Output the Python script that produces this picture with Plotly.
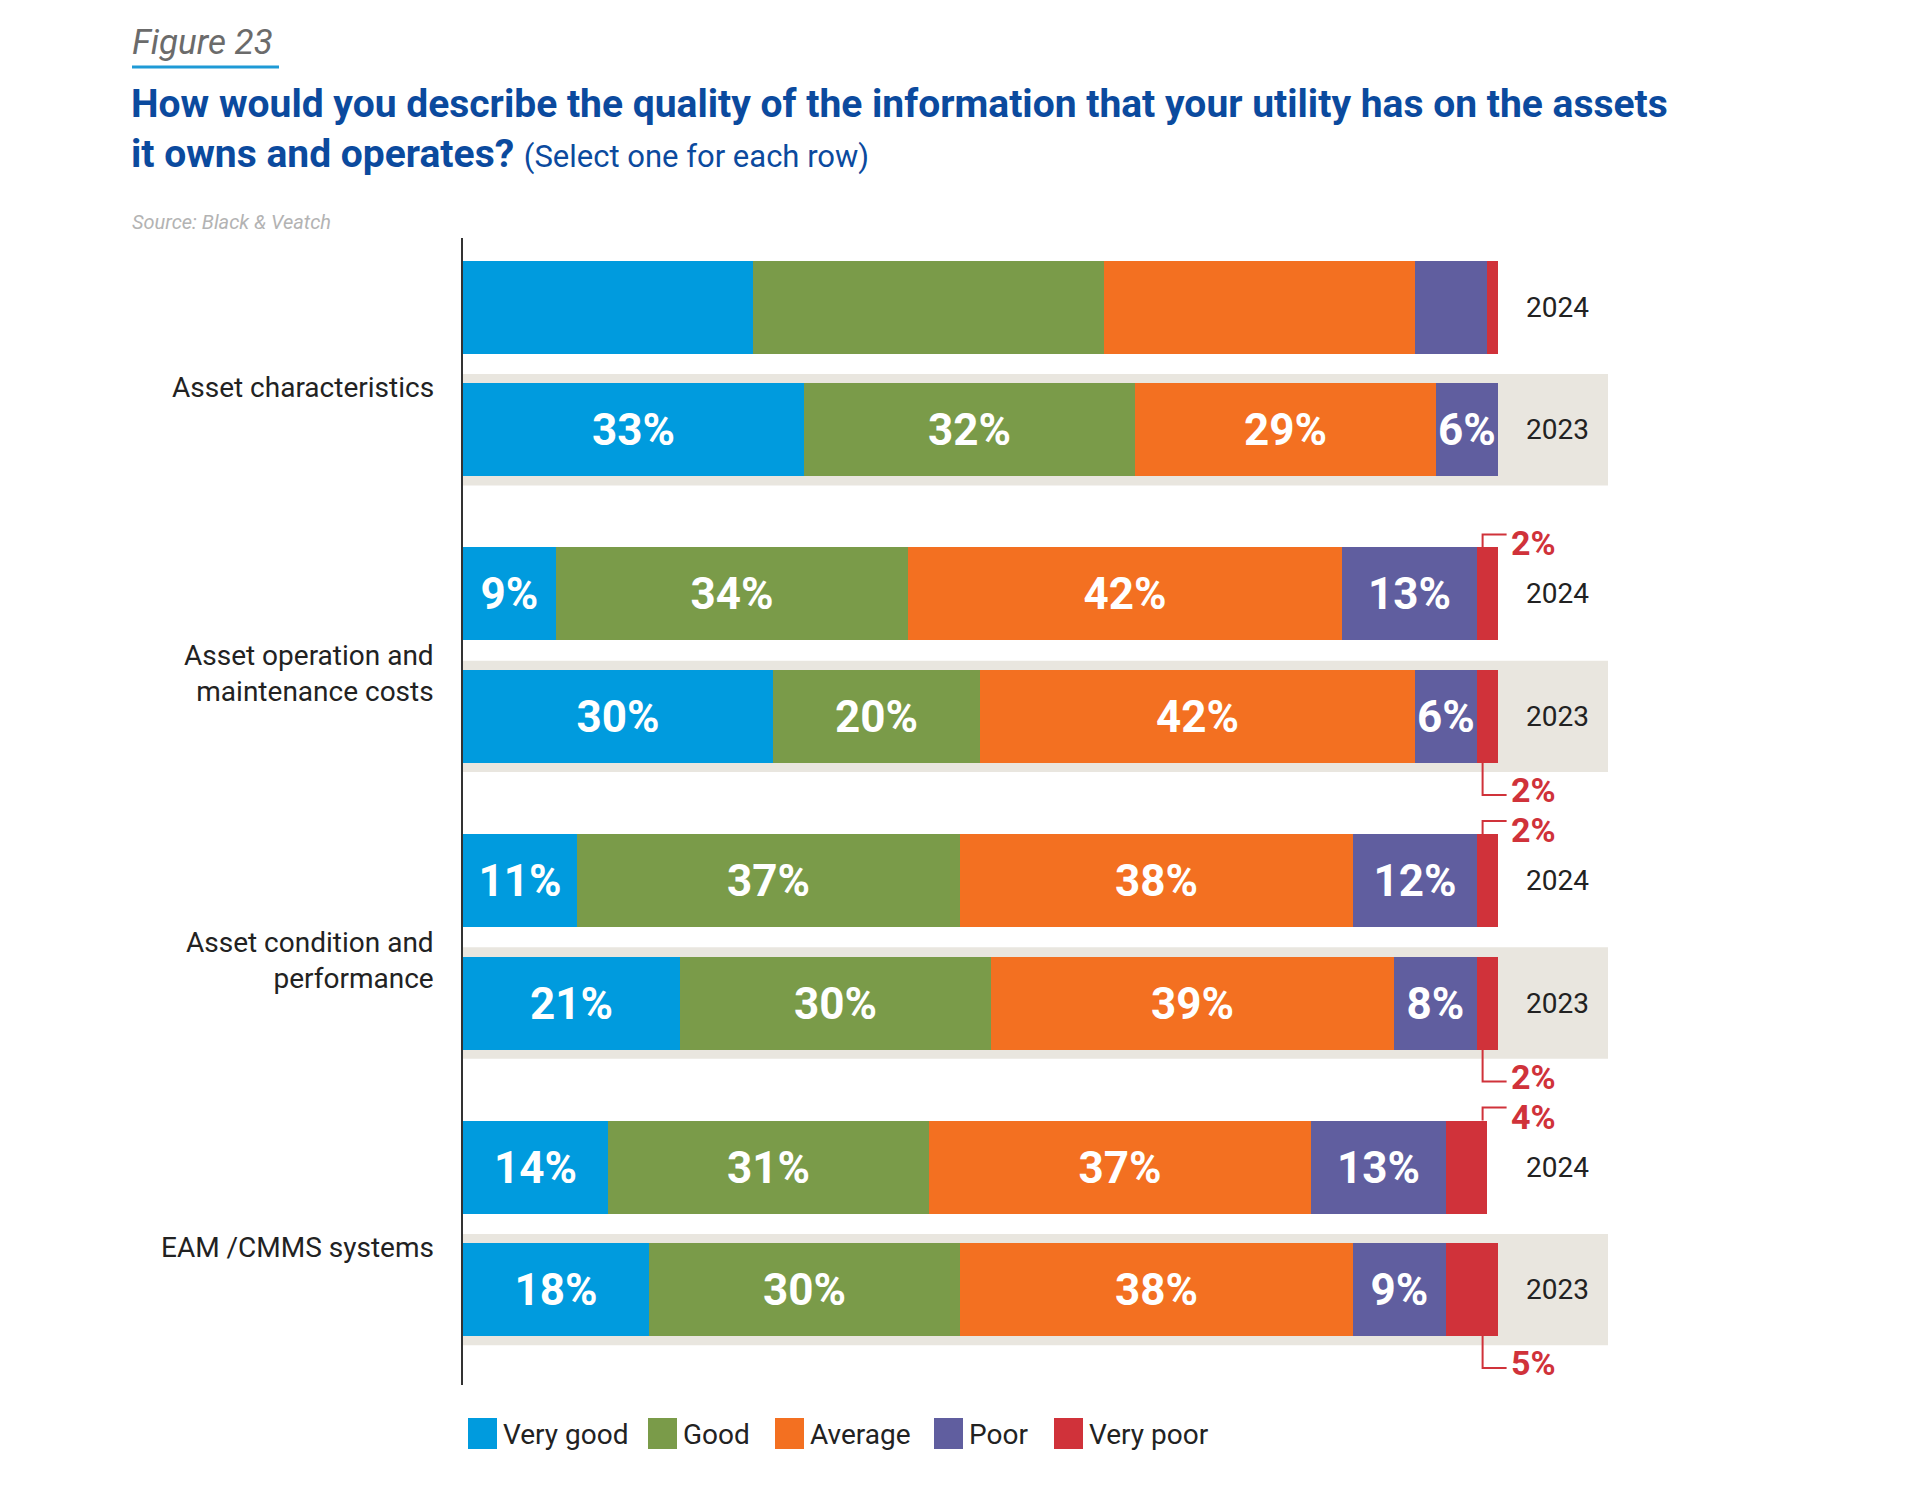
import plotly.graph_objects as go

# ---------------- data ----------------
categories = ["Asset characteristics",
              "Asset operation and<br>maintenance costs",
              "Asset condition and<br>performance",
              "EAM /CMMS systems"]
years = ["2024", "2023"]
series_names = ["Very good", "Good", "Average", "Poor", "Very poor"]
# rows: cat1-2024, cat1-2023, cat2-2024, cat2-2023, ...
very_good = [28, 33, 9, 30, 11, 21, 14, 18]
good      = [34, 32, 34, 20, 37, 30, 31, 30]
average   = [30, 29, 42, 42, 38, 39, 37, 38]
poor      = [7, 6, 13, 6, 12, 8, 13, 9]
very_poor = [1, 0, 2, 2, 2, 2, 4, 5]
show_labels = [False, True, True, True, True, True, True, True]

colors = ["#009BDE", "#7A9B49", "#F37021", "#605E9F", "#D0323A"]
band_color = "#E9E6DF"
title_blue = "#0B4A9E"

# ---------------- geometry (page pixels) ----------------
W, H = 1920, 1497
OFF = 8                         # page body margin
L, T = 463, 238                 # plot area top-left on the page
PW, PH = 1200, 1147
PXU = 10.346                    # pixels per percentage point
first_c = 69.3
grp_gap = 286.6
yr_gap = 122.5
bar_h = 93

def px2px(x):
    return (x - L) / PW

def py2py(y):
    return 1 - (y - T) / PH

n_rows = len(very_good)
ypos = [first_c + (i // 2) * grp_gap + (i % 2) * yr_gap for i in range(n_rows)]

fig = go.Figure()
all_series = [very_good, good, average, poor, very_poor]
for s, (name, vals, col) in enumerate(zip(series_names, all_series, colors)):
    txt = []
    for i, v in enumerate(vals):
        if s < 4 and show_labels[i] and v > 0:
            txt.append(f"{v}%")
        else:
            txt.append("")
    fig.add_trace(go.Bar(
        name=name, x=vals, y=ypos, orientation="h", width=bar_h,
        marker=dict(color=col, line=dict(width=0)),
        text=txt, textposition="inside", insidetextanchor="middle",
        textangle=0, constraintext="none",
        textfont=dict(family="Roboto", size=44, color="white", weight="bold"),
        hoverinfo="skip", showlegend=False,
    ))

shapes = []
annotations = []

band_end = (1608 - L) / PXU
for i in range(n_rows):
    if i % 2 == 1:
        shapes.append(dict(type="rect", xref="x", yref="y", layer="below",
                           x0=0, x1=band_end, y0=ypos[i] - 55.7, y1=ypos[i] + 55.7,
                           fillcolor=band_color, line=dict(width=0)))

year_x = (1557 - L) / PXU
for i in range(n_rows):
    annotations.append(dict(x=year_x, y=ypos[i], xref="x", yref="y", text=years[i % 2],
                            showarrow=False, xanchor="center", yanchor="middle",
                            font=dict(family="Roboto", size=28, color="#222222")))

for g, cat in enumerate(categories):
    yc = ypos[2 * g] + 80
    annotations.append(dict(x=px2px(436), y=py2py(T + yc), xref="paper", yref="paper",
                            text=cat, showarrow=False, xanchor="right", yanchor="middle",
                            align="right",
                            font=dict(family="Roboto", size=28, color="#222222")))

red = colors[4]
xv = 100 - 1.45
xh = xv + 24 / PXU
for i, v in enumerate(very_poor):
    if v <= 0 or not show_labels[i]:
        continue
    if i % 2 == 0:
        edge = ypos[i] - bar_h / 2
        yl = edge - 13
        ytxt = edge - 4
    else:
        edge = ypos[i] + bar_h / 2
        yl = edge + 32
        ytxt = edge + 27
    shapes.append(dict(type="path", xref="x", yref="y",
                       path=f"M {xv} {edge} L {xv} {yl} L {xh} {yl}",
                       line=dict(color=red, width=2)))
    annotations.append(dict(x=xh + 2 / PXU, y=ytxt, xref="x", yref="y", text=f"{v}%",
                            showarrow=False, xanchor="left", yanchor="middle",
                            font=dict(family="Roboto", size=34, color=red, weight="bold")))

# Title block
annotations.append(dict(x=px2px(130), y=py2py(43), xref="paper", yref="paper",
                        text="<i>Figure 23</i>", showarrow=False, xanchor="left", yanchor="middle",
                        font=dict(family="Roboto", size=35, color="#6B6B6B")))
shapes.append(dict(type="line", xref="paper", yref="paper", x0=px2px(132), x1=px2px(279),
                   y0=py2py(67), y1=py2py(67), line=dict(color="#1E9AD6", width=3)))
annotations.append(dict(x=px2px(129), y=py2py(104), xref="paper", yref="paper",
                        text="<b>How would you describe the quality of the information that your utility has on the assets</b>",
                        showarrow=False, xanchor="left", yanchor="middle",
                        font=dict(family="Roboto", size=39, color=title_blue)))
annotations.append(dict(x=px2px(129), y=py2py(154), xref="paper", yref="paper",
                        text="<b>it owns and operates?</b> <span style='font-size:31px'>(Select one for each row)</span>",
                        showarrow=False, xanchor="left", yanchor="middle",
                        font=dict(family="Roboto", size=39, color=title_blue)))
annotations.append(dict(x=px2px(130), y=py2py(222), xref="paper", yref="paper",
                        text="<i>Source: Black &amp; Veatch</i>", showarrow=False,
                        xanchor="left", yanchor="middle",
                        font=dict(family="Roboto", size=20, color="#B3B3B3")))

# custom legend
leg_sq_x = [468, 648, 775, 934, 1054]
leg_y0, leg_y1 = 1418, 1449
for name, col, sx in zip(series_names, colors, leg_sq_x):
    shapes.append(dict(type="rect", xref="paper", yref="paper",
                       x0=px2px(sx), x1=px2px(sx + 29), y0=py2py(leg_y1), y1=py2py(leg_y0),
                       fillcolor=col, line=dict(width=0)))
    annotations.append(dict(x=px2px(sx + 33), y=py2py((leg_y0 + leg_y1) / 2 + 1),
                            xref="paper", yref="paper", text=name, showarrow=False,
                            xanchor="left", yanchor="middle",
                            font=dict(family="Roboto", size=28, color="#222222")))

fig.update_layout(
    width=W, height=H,
    margin=dict(l=L - OFF, r=W - (L - OFF) - PW, t=T - OFF, b=H - (T - OFF) - PH, pad=0),
    barmode="stack", bargap=0,
    plot_bgcolor="white", paper_bgcolor="white",
    xaxis=dict(range=[0, PW / PXU], visible=False, fixedrange=True),
    yaxis=dict(range=[PH, 0], showline=True, linecolor="#333333", linewidth=2,
               showticklabels=False, showgrid=False, zeroline=False, ticks=""),
    uniformtext=dict(minsize=44, mode="show"),
    shapes=shapes, annotations=annotations,
    showlegend=False,
)

fig.write_html("out.html")
